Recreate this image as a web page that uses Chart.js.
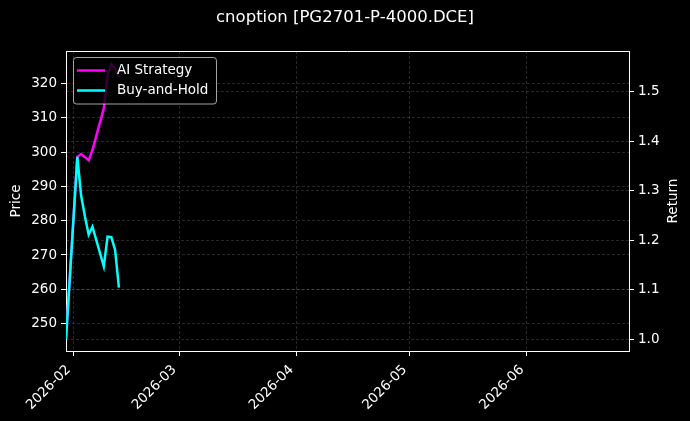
<!DOCTYPE html>
<html>
<head>
<meta charset="utf-8">
<script src="https://cdn.jsdelivr.net/npm/chart.js@4.4.1/dist/chart.umd.min.js"></script>
<style>
  html, body { margin: 0; padding: 0; background: #000; }
  #wrap { width: 690px; height: 421px; }
</style>
</head>
<body>
<div id="wrap"><canvas id="chart" width="690" height="421"></canvas></div>
<script>
// trading days and cumulative returns
const dates = ['2026-01-30', '2026-02-02', '2026-02-03', '2026-02-04', '2026-02-05', '2026-02-06',
               '2026-02-09', '2026-02-10', '2026-02-11', '2026-02-12', '2026-02-13'];
const aiStrategy = [1.000, 1.368, 1.374, 1.368, 1.361, 1.382, 1.466, 1.532, 1.556, 1.546, 1.530];
const buyAndHold = [1.000, 1.368, 1.290, 1.248, 1.211, 1.227, 1.147, 1.207, 1.206, 1.180, 1.104];

const monthTicks = ['2026-02', '2026-03', '2026-04', '2026-05', '2026-06'];
const priceTicks = [250, 260, 270, 280, 290, 300, 310, 320];
const returnTicks = [1.0, 1.1, 1.2, 1.3, 1.4, 1.5];
const xRange = ['2026-01-30', '2026-06-28'];
const priceRange = [242, 329.5];
const returnRange = [0.976, 1.582];

const FONT = 'DejaVu Sans';
const gridColor = 'rgba(255, 255, 255, 0.22)';

function toTime(s) {
  const p = s.split('-').map(Number);
  return Date.UTC(p[0], p[1] - 1, p[2] || 1);
}

function series(values) {
  return values.map((v, i) => ({ x: toTime(dates[i]), y: v }));
}

Chart.defaults.font.family = FONT;
Chart.defaults.font.size = 13.5;
Chart.defaults.color = '#ffffff';

const frameAndLegend = {
  id: 'frameAndLegend',
  beforeDraw(chart) {
    const ctx = chart.ctx;
    ctx.save();
    ctx.fillStyle = '#000000';
    ctx.fillRect(0, 0, chart.width, chart.height);
    ctx.restore();
  },
  afterDatasetsDraw(chart) {
    const ctx = chart.ctx;
    const a = chart.chartArea;
    ctx.save();
    // top spine
    ctx.strokeStyle = '#ffffff';
    ctx.lineWidth = 1;
    ctx.beginPath();
    ctx.moveTo(a.left, a.top + 0.5);
    ctx.lineTo(a.right, a.top + 0.5);
    ctx.stroke();

    // legend box, upper left inside the axes
    const bx = a.left + 7.5, by = a.top + 6.5, bw = 143, bh = 46.5;
    ctx.beginPath();
    ctx.roundRect(bx, by, bw, bh, 3);
    ctx.fillStyle = 'rgba(0, 0, 0, 0.8)';
    ctx.fill();
    ctx.strokeStyle = 'rgba(204, 204, 204, 0.8)';
    ctx.lineWidth = 1;
    ctx.stroke();

    ctx.font = '13.5px "' + FONT + '"';
    ctx.textBaseline = 'middle';
    ctx.textAlign = 'left';
    chart.data.datasets.forEach((ds, i) => {
      const y = by + 13 + i * 20;
      ctx.strokeStyle = ds.borderColor;
      ctx.lineWidth = ds.borderWidth;
      ctx.beginPath();
      ctx.moveTo(bx + 3.5, y);
      ctx.lineTo(bx + 31.5, y);
      ctx.stroke();
      ctx.fillStyle = '#ffffff';
      ctx.fillText(ds.label, bx + 43.5, y);
    });

    // right axis title, reading bottom to top like the left one
    ctx.translate(673, (a.top + a.bottom) / 2);
    ctx.rotate(-Math.PI / 2);
    ctx.textAlign = 'center';
    ctx.fillText('Return', 0, 0);
    ctx.restore();
  }
};

new Chart(document.getElementById('chart'), {
  type: 'line',
  data: {
    datasets: [{
      label: 'AI Strategy',
      data: series(aiStrategy),
      yAxisID: 'y1',
      borderColor: '#ff00ff',
      borderWidth: 2.5,
      pointRadius: 0,
      tension: 0,
      order: 2
    }, {
      label: 'Buy-and-Hold',
      data: series(buyAndHold),
      yAxisID: 'y1',
      borderColor: '#00ffff',
      borderWidth: 2.5,
      pointRadius: 0,
      tension: 0,
      order: 1
    }]
  },
  options: {
    responsive: false,
    animation: false,
    layout: { padding: 0 },
    plugins: {
      legend: { display: false },
      tooltip: { enabled: false },
      title: {
        display: true,
        text: 'cnoption [PG2701-P-4000.DCE]',
        color: '#ffffff',
        font: { size: 16.5, weight: 'normal' },
        padding: { top: 8, bottom: 23.2 }
      }
    },
    scales: {
      x: {
        type: 'linear',
        position: 'bottom',
        min: toTime(xRange[0]),
        max: toTime(xRange[1]),
        afterBuildTicks: s => { s.ticks = monthTicks.map(m => ({ value: toTime(m) })); },
        afterFit: s => { s.height = 70; },
        ticks: {
          autoSkip: false,
          minRotation: 45,
          maxRotation: 45,
          padding: 6,
          labelOffset: -5,
          callback: v => {
            const m = monthTicks.find(t => toTime(t) === v);
            return m || '';
          }
        },
        grid: { color: gridColor, lineWidth: 0.7, tickColor: '#ffffff', tickLength: 5, tickWidth: 1 },
        border: { color: '#ffffff', width: 1, dash: [3, 2] }
      },
      y: {
        type: 'linear',
        position: 'left',
        min: priceRange[0],
        max: priceRange[1],
        afterBuildTicks: s => { s.ticks = priceTicks.map(v => ({ value: v })); },
        afterFit: s => { s.width = 66; },
        ticks: { padding: 4, callback: v => String(v) },
        title: { display: true, text: 'Price', color: '#ffffff', padding: { top: 8 } },
        grid: { color: gridColor, lineWidth: 0.7, tickColor: '#ffffff', tickLength: 5, tickWidth: 1 },
        border: { color: '#ffffff', width: 1, dash: [3, 2] }
      },
      y1: {
        type: 'linear',
        position: 'right',
        min: returnRange[0],
        max: returnRange[1],
        afterBuildTicks: s => { s.ticks = returnTicks.map(v => ({ value: v })); },
        afterFit: s => { s.width = 61; },
        ticks: { padding: 4, callback: v => v.toFixed(1) },
        grid: { color: gridColor, lineWidth: 0.7, tickColor: '#ffffff', tickLength: 5, tickWidth: 1 },
        border: { color: '#ffffff', width: 1, dash: [3, 2] }
      }
    }
  },
  plugins: [frameAndLegend]
});
</script>
</body>
</html>
